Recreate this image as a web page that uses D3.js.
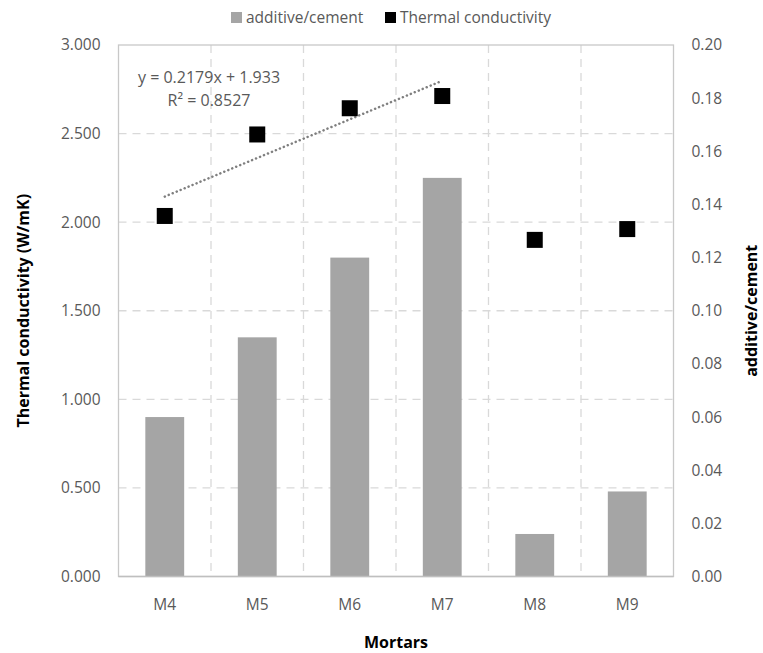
<!DOCTYPE html>
<html><head><meta charset="utf-8">
<script src="https://cdn.jsdelivr.net/npm/d3@7"></script>
<style>body{margin:0;background:#fff}svg{display:block}text{font-family:"Open Sans","Noto Sans",sans-serif}</style>
</head><body><svg id="c" width="763" height="653"></svg>
<script>
const categories = ["M4","M5","M6","M7","M8","M9"];
const additiveCement = [0.060, 0.090, 0.120, 0.150, 0.016, 0.032];
const thermalConductivity = [2.035, 2.495, 2.643, 2.712, 1.900, 1.961];
const leftTicks = [0, 0.5, 1.0, 1.5, 2.0, 2.5, 3.0];
const rightTicks = [0, 0.02, 0.04, 0.06, 0.08, 0.10, 0.12, 0.14, 0.16, 0.18, 0.20];
const trendCats = ["M4","M5","M6","M7"];
const trendEquation = "y = 0.2179x + 1.933";
const trendR2 = "R² = 0.8527";

const svg = d3.select("#c");
const L = 118.5, R = 673.5, T = 45, B = 576.5;
const x = d3.scaleBand().domain(categories).range([L, R]).paddingInner(0.58).paddingOuter(0.29);
const xc = d => x(d) + x.bandwidth()/2;
const yL = d3.scaleLinear().domain([0, 3]).range([B, T]);
const yR = d3.scaleLinear().domain([0, 0.2]).range([B, T]);
const step = x.step();
const grey = "#595959";

// grid
const g = svg.append("g");
g.selectAll("line.h").data(leftTicks.slice(1,-1)).join("line")
  .attr("x1", L).attr("x2", R).attr("y1", d => yL(d)).attr("y2", d => yL(d))
  .attr("stroke", "#d9d9d9").attr("stroke-width", 1.3).attr("stroke-dasharray", "8,6");
g.selectAll("line.v").data(categories.slice(1)).join("line")
  .attr("x1", d => x(d) - step*0.29).attr("x2", d => x(d) - step*0.29)
  .attr("y1", T).attr("y2", B)
  .attr("stroke", "#d9d9d9").attr("stroke-width", 1.3).attr("stroke-dasharray", "8,6");
// border
svg.append("rect").attr("x", L).attr("y", T).attr("width", R-L).attr("height", B-T)
  .attr("fill", "none").attr("stroke", "#c8c8c8").attr("stroke-width", 1.3);

// bars
svg.selectAll("rect.bar").data(categories).join("rect").attr("class","bar")
  .attr("x", d => x(d)).attr("width", x.bandwidth())
  .attr("y", (d,i) => yR(additiveCement[i])).attr("height", (d,i) => B - yR(additiveCement[i]))
  .attr("fill", "#a5a5a5");

// bottom axis line
svg.append("line").attr("x1", L).attr("x2", R).attr("y1", B).attr("y2", B)
  .attr("stroke", "#bfbfbf").attr("stroke-width", 1.5);

// trendline (least squares on first four points)
const xs = trendCats.map((d,i) => i+1);
const ys = trendCats.map(d => thermalConductivity[categories.indexOf(d)]);
const mx = d3.mean(xs), my = d3.mean(ys);
const slope = d3.sum(xs.map((v,i) => (v-mx)*(ys[i]-my))) / d3.sum(xs.map(v => (v-mx)*(v-mx)));
const icpt = my - slope*mx;
svg.append("line")
  .attr("x1", xc(trendCats[0])).attr("y1", yL(icpt + slope*1))
  .attr("x2", xc(trendCats[3])).attr("y2", yL(icpt + slope*4))
  .attr("stroke", "#7f7f7f").attr("stroke-width", 2.5).attr("stroke-linecap","round")
  .attr("stroke-dasharray", "0.1,4.2");

// markers
const ms = 16;
svg.selectAll("rect.mk").data(categories).join("rect")
  .attr("x", d => xc(d) - ms/2).attr("y", (d,i) => yL(thermalConductivity[i]) - ms/2)
  .attr("width", ms).attr("height", ms).attr("fill", "#000");

// axes labels
const lax = svg.append("g").attr("transform", `translate(${L-15},0)`)
  .call(d3.axisLeft(yL).tickValues(leftTicks).tickFormat(d3.format(".3f")).tickSize(0));
const rax = svg.append("g").attr("transform", `translate(${R+15},0)`)
  .call(d3.axisRight(yR).tickValues(rightTicks).tickFormat(d3.format(".2f")).tickSize(0));
const bax = svg.append("g").attr("transform", `translate(0,${B+19})`)
  .call(d3.axisBottom(x).tickSize(0));
[lax, rax, bax].forEach(a => {
  a.select(".domain").remove();
  a.selectAll("text").attr("fill", grey).attr("font-size", 15.5)
    .style("font-family", '"Open Sans","Noto Sans",sans-serif');
});
lax.selectAll("text").attr("dx", 0);
rax.selectAll("text").attr("dx", 0);

// titles
svg.append("text").attr("x", (L+R)/2).attr("y", 648).attr("text-anchor","middle")
  .attr("font-size", 16).attr("font-weight","bold").attr("fill","#000").text("Mortars");
svg.append("text").attr("transform", `translate(29,${(T+B)/2}) rotate(-90)`).attr("text-anchor","middle")
  .attr("font-size", 16).attr("font-weight","bold").attr("fill","#000").text("Thermal conductivity (W/mK)");
svg.append("text").attr("transform", `translate(757,${(T+B)/2}) rotate(-90)`).attr("text-anchor","middle")
  .attr("font-size", 16).attr("font-weight","bold").attr("fill","#000").text("additive/cement");

// trend text
svg.append("text").attr("x", 209).attr("y", 83).attr("text-anchor","middle")
  .attr("font-size", 16).attr("fill", grey).text(trendEquation);
svg.append("text").attr("x", 209).attr("y", 106).attr("text-anchor","middle")
  .attr("font-size", 16).attr("fill", grey).text(trendR2);

// legend
const leg = [{name:"additive/cement", color:"#a5a5a5", x:231},{name:"Thermal conductivity", color:"#000", x:385}];
const lg = svg.selectAll("g.leg").data(leg).join("g").attr("transform", d => `translate(${d.x},0)`);
lg.append("rect").attr("x",0).attr("y",12).attr("width",11).attr("height",11).attr("fill", d => d.color);
lg.append("text").attr("x",15).attr("y",23).attr("font-size",15.5).attr("fill",grey).text(d => d.name);
</script></body></html>
